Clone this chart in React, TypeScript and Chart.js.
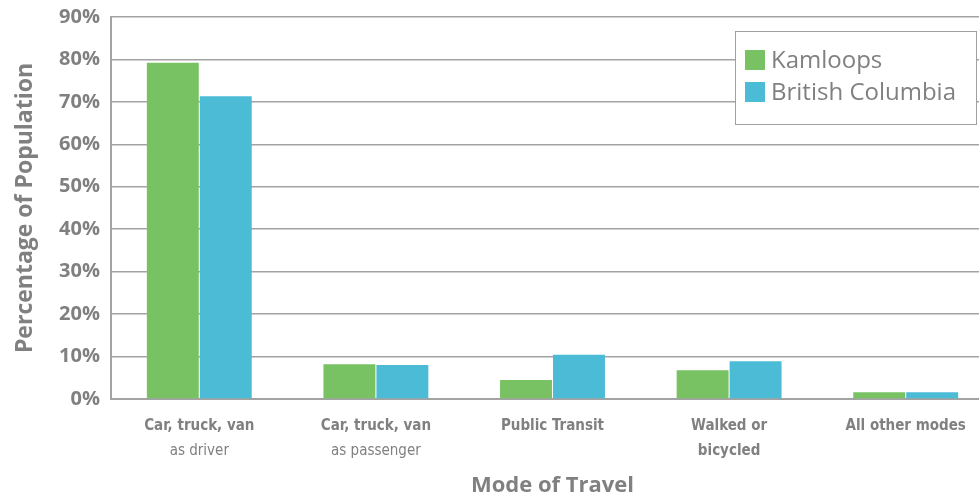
import React, { useEffect, useRef } from "react";
import { Chart, registerables } from "chart.js";

Chart.register(...registerables);

const categories: string[][] = [
  ["Car, truck, van", ""],
  ["Car, truck, van", ""],
  ["Public Transit"],
  ["Walked or", "bicycled"],
  ["All other modes"],
];
const subLabels: string[] = ["as driver", "as passenger", "", "", ""];
const kamloops: number[] = [79.2, 8.2, 4.5, 6.8, 1.6];
const britishColumbia: number[] = [71.3, 8.0, 10.4, 8.9, 1.6];
const seriesNames: string[] = ["Kamloops", "British Columbia"];
const yTicks: number[] = [0, 10, 20, 30, 40, 50, 60, 70, 80, 90];

const GREEN = "#78C263";
const BLUE = "#4BBBD6";
const GRAY_TEXT = "#808080";
const GRID = "#a3a3a3";
const CONDENSED = "'Liberation Sans Narrow', 'DejaVu Sans Condensed', 'Open Sans', sans-serif";
const SANS = "'Open Sans', 'Noto Sans', sans-serif";

const extrasPlugin = {
  id: "extras",
  afterDraw(chart: any) {
    const ctx = chart.ctx;
    const xs = chart.scales.x;
    ctx.save();
    // secondary (non-bold) x label lines
    ctx.font = `15px ${CONDENSED}`;
    ctx.fillStyle = GRAY_TEXT;
    ctx.textAlign = "center";
    ctx.textBaseline = "middle";
    subLabels.forEach((s, i) => {
      if (!s) return;
      const x = xs.getPixelForValue(i);
      ctx.fillText(s, x, 451);
    });
    // legend box
    const bx = 735.5, by = 31.5, bw = 241, bh = 93;
    ctx.fillStyle = "#ffffff";
    ctx.fillRect(bx, by, bw, bh);
    ctx.strokeStyle = "#a0a0a0";
    ctx.lineWidth = 1;
    ctx.strokeRect(bx, by, bw, bh);
    ctx.font = `24px ${SANS}`;
    ctx.textAlign = "left";
    ctx.textBaseline = "middle";
    chart.data.datasets.forEach((ds: any, i: number) => {
      const y = 50 + i * 32;
      ctx.fillStyle = ds.backgroundColor;
      ctx.fillRect(745, y, 20, 20);
      ctx.fillStyle = GRAY_TEXT;
      ctx.fillText(ds.label, 771, y + 11);
    });
    ctx.restore();
  },
};

export default function App() {
  const ref = useRef<HTMLCanvasElement>(null);
  useEffect(() => {
    document.body.style.margin = "0";
    if (!ref.current) return;
    const chart = new Chart(ref.current, {
      type: "bar",
      data: {
        labels: categories,
        datasets: [
          { label: seriesNames[0], data: kamloops, backgroundColor: GREEN },
          { label: seriesNames[1], data: britishColumbia, backgroundColor: BLUE },
        ],
      },
      options: {
        responsive: false,
        animation: false,
        layout: { padding: { top: 17, right: 0, left: 0, bottom: 0 } },
        plugins: { legend: { display: false }, tooltip: { enabled: false } },
        datasets: { bar: { categoryPercentage: 0.6, barPercentage: 0.98 } },
        scales: {
          x: {
            grid: { display: false, drawTicks: false },
            border: { display: true, color: GRID, width: 2 },
            ticks: {
              color: GRAY_TEXT,
              padding: 15,
              maxRotation: 0,
              autoSkip: false,
              font: { family: CONDENSED, size: 15, weight: "bold", lineHeight: "25px" },
            },
            title: {
              display: true,
              text: "Mode of Travel",
              color: GRAY_TEXT,
              font: { family: SANS, size: 22, weight: "bold", lineHeight: "16px" },
              padding: { top: 0, bottom: 0 },
            },
            afterFit(scale: any) {
              scale.height = 95;
              scale.paddingLeft = 0;
              scale.paddingRight = 0;
            },
          },
          y: {
            min: 0,
            max: 90,
            afterBuildTicks(scale: any) {
              scale.ticks = yTicks.map((v) => ({ value: v }));
            },
            grid: { color: GRID, lineWidth: 1.5, drawTicks: false },
            border: { display: true, color: GRID, width: 2 },
            ticks: {
              color: GRAY_TEXT,
              padding: 11,
              font: { family: SANS, size: 20, weight: "bold" },
              callback: (v: any) => `${v}%`,
            },
            title: {
              display: true,
              text: "Percentage of Population",
              color: GRAY_TEXT,
              font: { family: SANS, size: 23, weight: "bold" },
              padding: { top: 12, bottom: 0 },
            },
            afterFit(scale: any) {
              scale.width = 111;
              scale.paddingTop = 0;
              scale.paddingBottom = 0;
            },
          },
        },
      },
      plugins: [extrasPlugin],
    } as any);
    return () => chart.destroy();
  }, []);
  return (
    <div style={{ width: 979, height: 494, overflow: "hidden" }}>
      <canvas ref={ref} width={994} height={494} style={{ display: "block" }} />
    </div>
  );
}
